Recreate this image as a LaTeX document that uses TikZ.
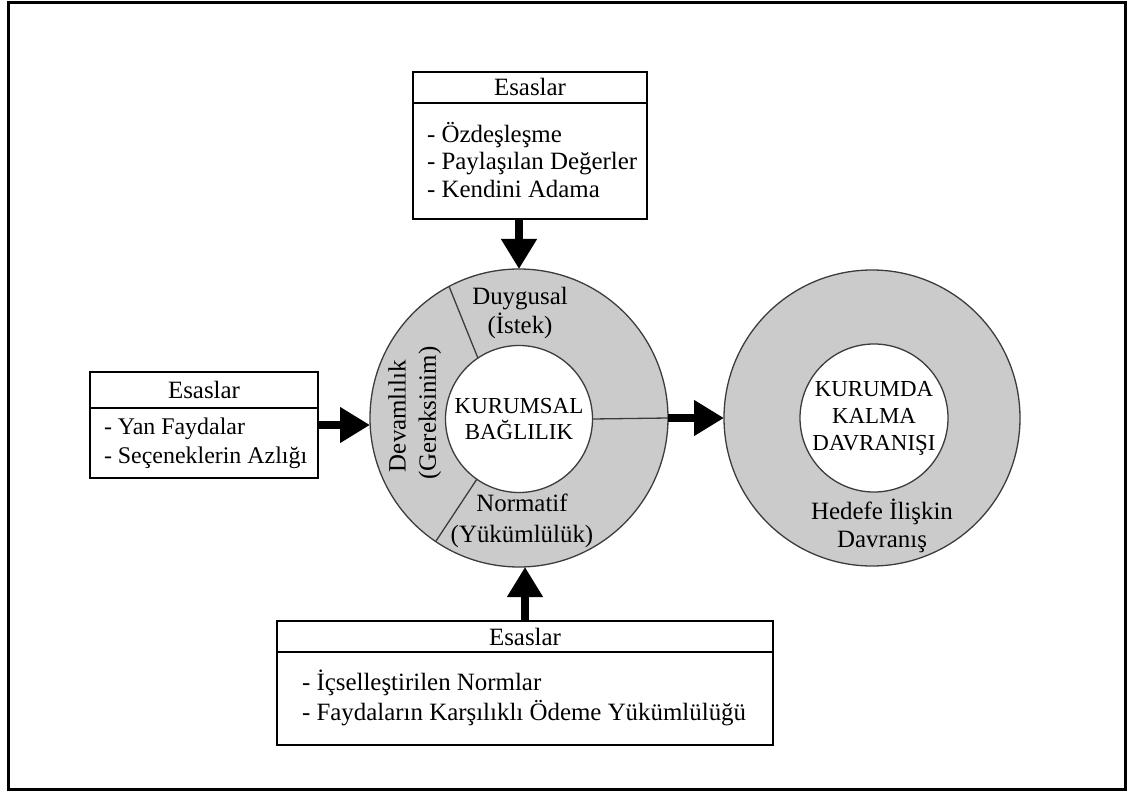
\documentclass[tikz,border=0pt]{standalone}
\usepackage{fontspec}
\setmainfont{Liberation Serif}
\usetikzlibrary{arrows.meta}
\definecolor{ringgrey}{RGB}{203,203,203}
\definecolor{edgegrey}{RGB}{60,60,60}

\begin{document}
\begin{tikzpicture}[x=1bp,y=-1bp,
  txt/.style={font=\fontsize{25}{28}\selectfont, inner sep=0pt, outer sep=0pt},
  caps/.style={font=\fontsize{23}{27}\selectfont},
  boxframe/.style={draw=black, line width=2bp, fill=white, inner sep=0pt, outer sep=0pt},
  headline/.style={draw=black, line width=1.6bp},
  ring/.style={circle, draw=edgegrey, line width=1.3bp, fill=ringgrey, inner sep=0pt, outer sep=0pt},
  hole/.style={circle, draw=edgegrey, line width=1.3bp, fill=white, inner sep=0pt, outer sep=0pt},
  divider/.style={draw=edgegrey, line width=1.3bp},
  bigarrow/.style={line width=8bp, -{Triangle[width=34bp,length=30bp]}}]

\useasboundingbox (0,0) rectangle (1131,794);
% outer frame
\draw[line width=3.5bp] (8.5,2.5) rectangle (1125.5,789.5);

% ---- top box: affective bases
\node[boxframe, minimum width=234bp, minimum height=147bp] (topbox) at (530,145.5) {};
\draw[headline] (topbox.west |- 0,103) -- (topbox.east |- 0,103);
\node[txt] (tophead) at (530,87) {Esaslar};
\node[txt, anchor=west, align=left] (toplist) at (427,160)
  {- Özdeşleşme\\- Paylaşılan Değerler\\- Kendini Adama};

% ---- left box: continuance bases
\node[boxframe, minimum width=228bp, minimum height=106bp] (leftbox) at (204,425) {};
\draw[headline] (leftbox.west |- 0,408) -- (leftbox.east |- 0,408);
\node[txt] (lefthead) at (204,390) {Esaslar};
\node[txt, anchor=west, align=left, font=\fontsize{24}{29}\selectfont] (leftlist) at (104,443)
  {- Yan Faydalar\\- Seçeneklerin Azlığı};

% ---- bottom box: normative bases
\node[boxframe, minimum width=496bp, minimum height=124bp] (botbox) at (525,682.5) {};
\draw[headline] (botbox.west |- 0,652) -- (botbox.east |- 0,652);
\node[txt] (bothead) at (525,637) {Esaslar};
\node[txt, anchor=west, align=left, font=\fontsize{25}{30}\selectfont] (botlist) at (302,698)
  {- İçselleştirilen Normlar\\- Faydaların Karşılıklı Ödeme Yükümlülüğü};

% ---- commitment ring
\node[ring, minimum size=298bp] (lc) at (519,418) {};
\node[hole, minimum size=147bp, txt, caps, align=center] (lin) at (519,419) {KURUMSAL\\BAĞLILIK};
\draw[divider] (lin.124) -- (lc.118);
\draw[divider] (lin.235) -- (lc.236);
\draw[divider] (lin.east) -- (lc.east);
\node[txt, align=center, font=\fontsize{25}{30}\selectfont] (aff) at (520,313) {Duygusal\\(İstek)};
\node[txt, align=center, font=\fontsize{25}{31}\selectfont] (norm) at (522,521) {Normatif\\(Yükümlülük)};
\node[txt, rotate=90] (cont) at (397,416) {Devamlılık};
\node[txt, rotate=90] (need) at (430,413) {(Gereksinim)};

% ---- behaviour ring
\node[ring, minimum size=296bp] (rc) at (872,418) {};
\node[hole, minimum size=148bp, txt, caps, align=center] (rin) at (874,418)
  {KURUMDA\\KALMA\\DAVRANIŞI};
\node[txt, align=center, font=\fontsize{25}{28}\selectfont] (goal) at (882,526)
  {Hedefe İlişkin\\Davranış};

% ---- arrows
\draw[bigarrow] (lc.north |- topbox.south) -- (lc.north);
\draw[bigarrow] (leftbox.east) -- (leftbox.east -| lc.west);
\draw[bigarrow] (botbox.north) -- (botbox.north |- lc.south);
\draw[bigarrow] (lc.east) -- (rc.west);
\end{tikzpicture}
\end{document}
